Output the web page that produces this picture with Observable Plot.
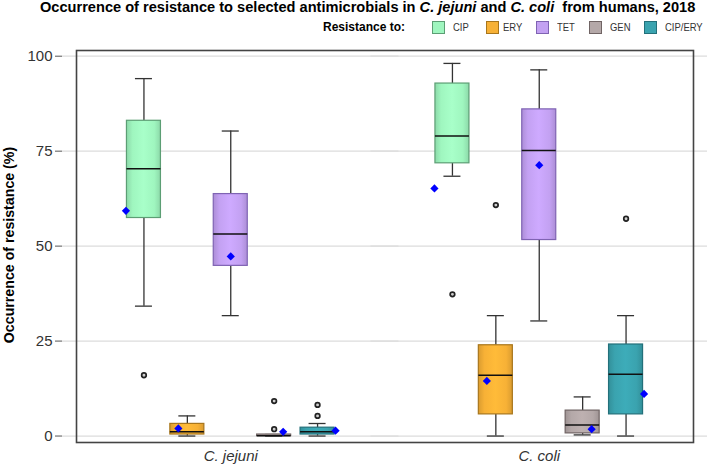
<!DOCTYPE html>
<html>
<head>
<meta charset="utf-8">
<script src="https://cdn.jsdelivr.net/npm/d3@7"></script>
<script src="https://cdn.jsdelivr.net/npm/@observablehq/plot@0.6"></script>
<style>
  body { margin: 0; background: #fff; font-family: "Liberation Sans", Arial, sans-serif; }
  #wrap { position: relative; width: 709px; height: 468px; overflow: hidden; background: #fff; }
  #title { position: absolute; left: 40px; top: -1px; font-weight: bold; font-size: 14.6px; white-space: nowrap; color: #000; }
  #legend { position: absolute; left: 0; top: 20px; width: 709px; height: 15px; font-size: 11px; color: #333; }
  #legend .lab { position: absolute; left: 323px; top: 0; line-height: 15px; font-weight: bold; font-size: 12px; color: #000; white-space: nowrap; }
  #legend .sw { position: absolute; top: 1px; width: 11px; height: 11px; border: 1px solid #555; }
  #legend .tx { position: absolute; top: 0; line-height: 15px; white-space: nowrap; transform: scaleX(0.86); transform-origin: left center; }
  #ylabel { position: absolute; left: 9px; top: 245px; transform: translate(-50%, -50%) rotate(-90deg); font-weight: bold; font-size: 14.2px; white-space: nowrap; color: #000; }
  #chart { position: absolute; left: 0; top: 42px; }
</style>
</head>
<body>
<svg width="0" height="0" style="position:absolute">
  <defs id="grads"></defs>
</svg>
<div id="wrap">
  <div id="title">Occurrence of resistance to selected antimicrobials in <i>C. jejuni</i> and <i>C. coli</i>&nbsp; from humans, 2018</div>
  <div id="legend"></div>
  <div id="ylabel">Occurrence of resistance (%)</div>
  <div id="chart"></div>
</div>
<script>
// ---- data ----
const species = ["C. jejuni", "C. coli"];
const drugs = ["CIP", "ERY", "TET", "GEN", "CIP/ERY"];
const yTicks = [0, 25, 50, 75, 100];

const jejuniLow    = [34.2, 0.0, 31.7, 0.0, 0.0];
const jejuniQ1     = [57.4, 0.4, 44.8, 0.0, 0.4];
const jejuniMedian = [70.4, 1.1, 53.2, 0.1, 1.1];
const jejuniQ3     = [83.0, 3.2, 63.7, 0.4, 2.2];
const jejuniHigh   = [94.1, 5.3, 80.3, 0.4, 3.3];
const jejuniMean   = [59.3, 2.0, 47.3, 1.1, 1.4];
const jejuniOutliers = [[16.0], [], [], [9.2, 1.8], [8.2, 5.3]];

const coliLow    = [68.4, 0.0, 30.3, 0.3, 0.0];
const coliQ1     = [71.8, 5.7, 51.6, 0.7, 5.7];
const coliMedian = [79.0, 16.0, 75.2, 2.9, 16.3];
const coliQ3     = [92.8, 23.9, 86.0, 6.7, 24.1];
const coliHigh   = [98.1, 31.7, 96.4, 10.3, 31.7];
const coliMean   = [65.2, 14.5, 71.3, 1.8, 11.1];
const coliOutliers = [[37.3], [60.8], [], [], [57.2]];

// ---- styles ----
const fills   = ["#9ff6bf", "#f7b136", "#c3a1f2", "#b4a8a8", "#3aa3af"];
const strokes = ["#5c9e74", "#a8761c", "#7f63b3", "#706464", "#23707a"];
const meanDx  = [-18, -9, 0, 9, 18];
const legendSwatchLeft = [432, 486, 536, 589, 644];
const legendTextLeft   = [453, 503, 557, 610, 665];

// gradients (subtle shading at box edges)
const defs = d3.select("#grads");
fills.forEach((c, i) => {
  const base = d3.color(c);
  const g = defs.append("linearGradient").attr("id", "g" + i).attr("x1", "0").attr("x2", "1").attr("y1", "0").attr("y2", "0");
  g.append("stop").attr("offset", "0%").attr("stop-color", base.darker(0.35));
  g.append("stop").attr("offset", "18%").attr("stop-color", base);
  g.append("stop").attr("offset", "50%").attr("stop-color", base.brighter(0.15));
  g.append("stop").attr("offset", "82%").attr("stop-color", base);
  g.append("stop").attr("offset", "100%").attr("stop-color", base.darker(0.35));
});

// legend
const legend = d3.select("#legend");
legend.append("span").attr("class", "lab").text("Resistance to:");
drugs.forEach((d, i) => {
  legend.append("span").attr("class", "sw").style("left", legendSwatchLeft[i] + "px").style("background", fills[i]).style("border-color", strokes[i]);
  legend.append("span").attr("class", "tx").style("left", legendTextLeft[i] + "px").text(d);
});

// table
const stats = {
  "C. jejuni": {low: jejuniLow, q1: jejuniQ1, med: jejuniMedian, q3: jejuniQ3, high: jejuniHigh, mean: jejuniMean, out: jejuniOutliers},
  "C. coli":   {low: coliLow, q1: coliQ1, med: coliMedian, q3: coliQ3, high: coliHigh, mean: coliMean, out: coliOutliers}
};
const rows = [];
const outRows = [];
species.forEach(s => drugs.forEach((d, i) => {
  const st = stats[s];
  rows.push({species: s, drug: d, i, low: st.low[i], q1: st.q1[i], med: st.med[i], q3: st.q3[i], high: st.high[i], mean: st.mean[i]});
  st.out[i].forEach(v => outRows.push({species: s, drug: d, value: v}));
}));

// layout of the two groups inside the frame
const W = 709, mL = 62, mR = 2;
const fxPadOuter = 0.0454;
const fxStep = (W - mL - mR) / (2 + 2 * fxPadOuter);
const facetInset = fxPadOuter * fxStep; // gap between frame edge and first group band

const plot = Plot.plot({
  width: W,
  height: 426,
  marginTop: 8,
  marginBottom: 26,
  marginLeft: mL,
  marginRight: mR,
  style: {fontFamily: '"Liberation Sans", Arial, sans-serif', color: "#333", background: "transparent", overflow: "visible"},
  fx: {domain: species, paddingInner: 0, paddingOuter: fxPadOuter, axis: null, label: null, round: false},
  x: {domain: drugs, paddingInner: 0.2166, paddingOuter: 1.162, axis: null, label: null, round: false},
  y: {domain: [-1.7, 101.5], label: null},
  color: {type: "identity"},
  marks: [
    Plot.ruleY(yTicks, {stroke: "#dcdcdc", strokeWidth: 1.2, insetLeft: -facetInset, insetRight: -facetInset}),
    Plot.ruleX(rows, {fx: "species", x: "drug", y1: "low", y2: "q1", stroke: "#333", strokeWidth: 1.3}),
    Plot.ruleX(rows, {fx: "species", x: "drug", y1: "q3", y2: "high", stroke: "#333", strokeWidth: 1.3}),
    Plot.tickY(rows, {fx: "species", x: "drug", y: "low", stroke: "#333", strokeWidth: 1.3, insetLeft: 8.5, insetRight: 8.5}),
    Plot.tickY(rows, {fx: "species", x: "drug", y: "high", stroke: "#333", strokeWidth: 1.3, insetLeft: 8.5, insetRight: 8.5}),
    Plot.barY(rows, {fx: "species", x: "drug", y1: "q1", y2: "q3", fill: d => `url(#g${d.i})`, stroke: d => strokes[d.i], strokeWidth: 1.2}),
    Plot.tickY(rows, {fx: "species", x: "drug", y: "med", stroke: "#111", strokeWidth: 1.5}),
    Plot.dot(outRows, {fx: "species", x: "drug", y: "value", r: 2.3, fill: "#d0d0d0", stroke: "#222", strokeWidth: 1.7}),
    ...drugs.map((d, i) => Plot.dot(rows.filter(r => r.drug === d), {fx: "species", x: "drug", y: "mean", dx: meanDx[i], symbol: d3.symbolDiamond2, r: 3.7, fill: "#0000ff", stroke: "none"})),
    Plot.text(species, {fx: d => d, text: d => d, frameAnchor: "bottom", dy: 18, fontStyle: "italic", fontSize: 15, fill: "#333"}),
    Plot.axisY({ticks: yTicks, tickSize: 7, tickPadding: 3, fontSize: 15, stroke: "#555", label: null, dx: -facetInset}),
    Plot.frame({facet: "super", stroke: "#444", strokeWidth: 1.6})
  ]
});
document.getElementById("chart").appendChild(plot);
</script>
</body>
</html>
